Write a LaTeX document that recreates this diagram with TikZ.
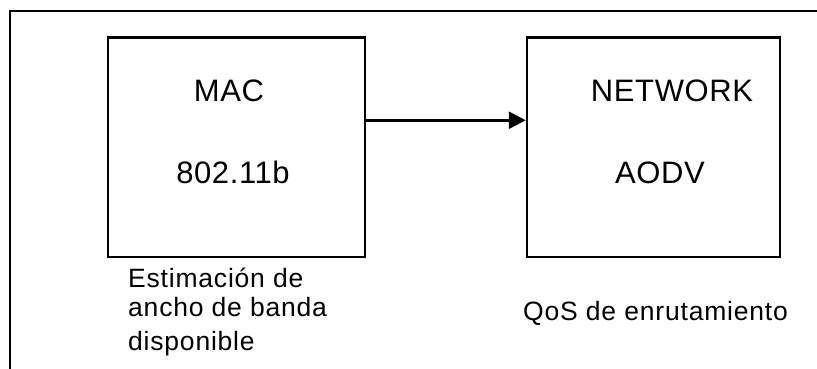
\documentclass[tikz,border=0pt]{standalone}
\usepackage{fontspec}
\setmainfont{Liberation Sans}
\newfontfamily\boxfont[LetterSpace=2]{Liberation Sans}
\newfontfamily\notefont[LetterSpace=3]{Liberation Sans}
\usetikzlibrary{arrows.meta}
\begin{document}
\begin{tikzpicture}[x=1pt,y=-1pt,
  layer/.style={draw,line width=2.5pt,minimum width=257pt,minimum height=219.5pt,inner sep=0pt},
  title/.style={anchor=base,inner sep=0pt,font=\boxfont\fontsize{31}{36}\selectfont},
  note/.style={anchor=base west,inner sep=0pt,align=left,font=\notefont\fontsize{26.5}{29}\selectfont},
  flow/.style={line width=2.5pt,-{Triangle[length=17pt,width=17pt]}}]
  \useasboundingbox (0,0) rectangle (817,369);
  % open frame: top and left edges only
  \draw[line width=2.5pt] (10,369) -- (10,11) -- (817,11);
  % the two protocol layers
  \node[layer] (mac) at (236.5,147.25) {};
  \node[layer,minimum width=253pt] (net) at (653.5,147.25) {};
  \node[title] (macname) at (229,101.7) {MAC};
  \node[title] (macstd) at (233,183) {802.11b};
  \node[title] (netname) at (672,101.7) {NETWORK};
  \node[title] (netproto) at (660,183) {AODV};
  % link from MAC to NETWORK
  \draw[flow] ([yshift=27pt]mac.east) -- ([yshift=27pt]net.west);
  % notes under each layer (node base = last line)
  \node[note] (bw) at (128,350) {Estimación de\\ancho de banda\\[5pt]disponible};
  \node[note] (qos) at (523,320) {QoS de enrutamiento};
\end{tikzpicture}
\end{document}
